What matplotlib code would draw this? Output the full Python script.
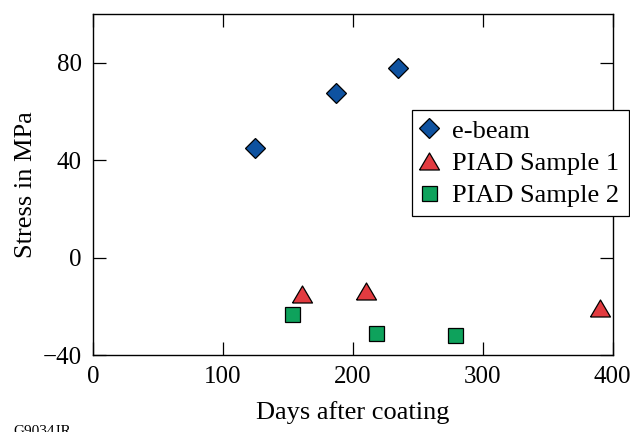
import numpy as np
import matplotlib.pyplot as plt

plt.rcParams['font.family'] = ['Liberation Serif', 'DejaVu Serif']
plt.rcParams['font.size'] = 19

# Datos de tensión (MPa) frente a días después del recubrimiento
dias_ebeam = np.array([125, 187, 235])
tension_ebeam = np.array([45.2, 67.4, 77.9])

dias_piad1 = np.array([161, 210, 390])
tension_piad1 = np.array([-15.0, -13.8, -20.8])

dias_piad2 = np.array([153, 218, 279])
tension_piad2 = np.array([-23.2, -30.8, -31.9])

etiquetas = ['e-beam', 'PIAD Sample 1', 'PIAD Sample 2']
xticks = [0, 100, 200, 300, 400]
yticks = [-40, 0, 40, 80]

# triángulo algo más ancho que alto
triangulo = [(-1, -0.85), (1, -0.85), (0, 0.85), (-1, -0.85)]

fig = plt.figure(figsize=(6.3, 4.32), dpi=100)
ax = fig.add_axes([0.1476, 0.178, 0.8249, 0.7896])

ax.plot(dias_ebeam, tension_ebeam, linestyle='none', marker='D', markersize=10.5,
        markerfacecolor='#0e52a0', markeredgecolor='black', markeredgewidth=0.9,
        label=etiquetas[0])
ax.plot(dias_piad1, tension_piad1, linestyle='none', marker=triangulo, markersize=14.4,
        markerfacecolor='#e23b40', markeredgecolor='black', markeredgewidth=0.9,
        label=etiquetas[1])
ax.plot(dias_piad2, tension_piad2, linestyle='none', marker='s', markersize=10.8,
        markerfacecolor='#0ea25c', markeredgecolor='black', markeredgewidth=0.9,
        label=etiquetas[2])

ax.set_xlim(0, 400)
ax.set_ylim(-40, 100)
ax.set_xticks(xticks)
ax.set_yticks(yticks)
ax.tick_params(direction='in', length=9.4, width=0.9, top=True, right=True,
               pad=8, labelsize=18)
for spine in ax.spines.values():
    spine.set_linewidth(1.0)

ax.set_xlabel('Days after coating', fontsize=19, labelpad=9)
ax.set_ylabel('Stress in MPa', fontsize=19, labelpad=4)

leg = ax.legend(loc='upper left', bbox_to_anchor=(0.613, 0.7185), borderaxespad=0,
                numpoints=1, handlelength=0.6, handletextpad=0.6, borderpad=0.35,
                labelspacing=0.33, fancybox=False, framealpha=1, edgecolor='black',
                fontsize=19)
leg.get_frame().set_linewidth(0.9)
leg.set_clip_on(False)

fig.text(0.022, -0.007, 'G9034JR', fontsize=11, va='baseline', ha='left')

fig.savefig('out.png', dpi=100)
